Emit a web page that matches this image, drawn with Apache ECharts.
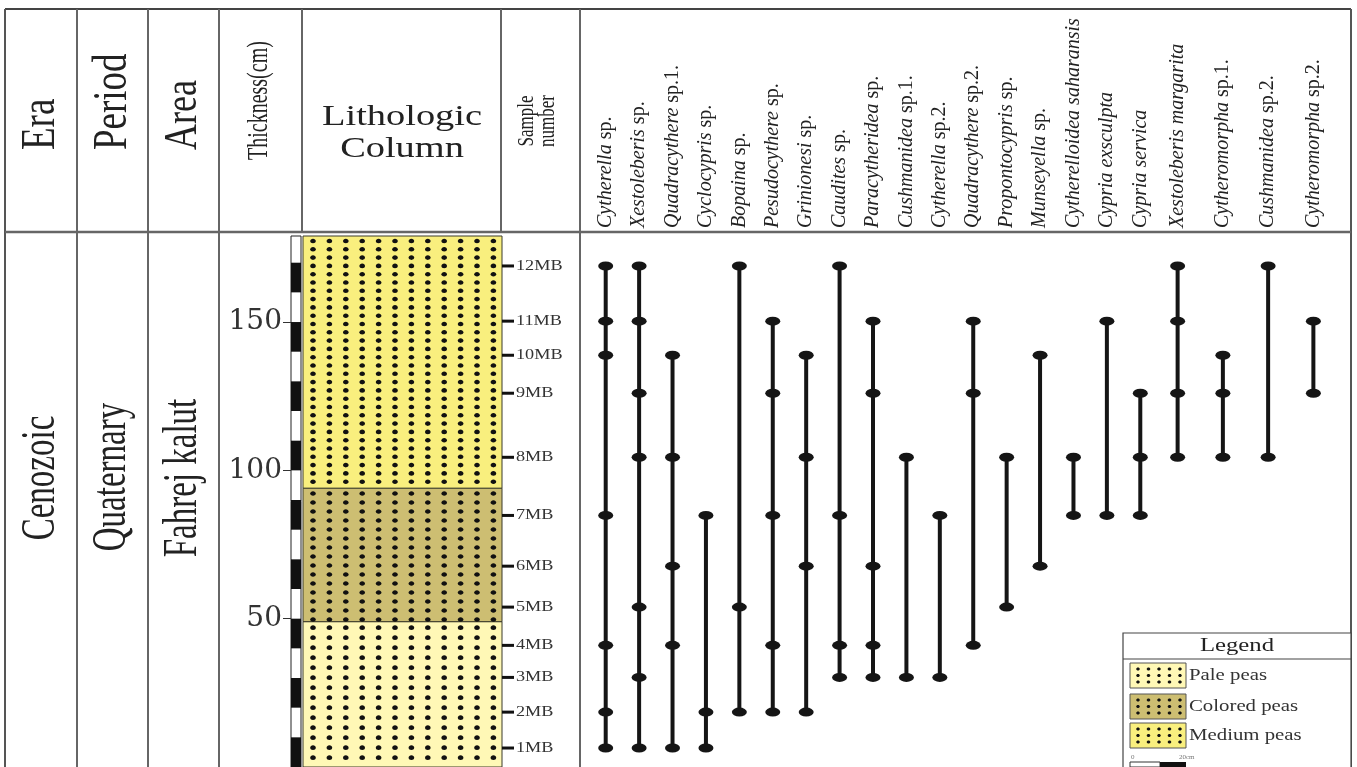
<!DOCTYPE html>
<html>
<head>
<meta charset="utf-8">
<script src="https://cdn.jsdelivr.net/npm/echarts@6.0.0/dist/echarts.min.js"></script>
<style>
html,body{margin:0;padding:0;background:#fff;}
#chart{width:1357px;height:767px;}
</style>
</head>
<body>
<div id="chart"></div>
<script>
// ---------------- data ----------------
const sampleLabels = ['1MB','2MB','3MB','4MB','5MB','6MB','7MB','8MB','9MB','10MB','11MB','12MB'];
const sampleDepths = [6.4, 18.5, 30.2, 41.0, 53.9, 67.7, 84.8, 104.4, 126.0, 138.8, 150.3, 168.9];
const thicknessTicks = [50, 100, 150];
const scaleBarStart = [0, 20, 40, 60, 80, 100, 120, 140, 160];
const scaleBarEnd = [10, 30, 50, 70, 90, 110, 130, 150, 170];
const lithoNames = ['Pale peas', 'Colored peas', 'Medium peas'];
const lithoBottom = [0, 49, 94];
const lithoTop = [49, 94, 179];
const speciesGenus = ['Cytherella','Xestoleberis','Quadracythere','Cyclocypris','Bopaina','Pesudocythere',
  'Grinionesi','Caudites','Paracytheridea','Cushmanidea','Cytherella','Quadracythere','Propontocypris',
  'Munseyella','Cytherelloidea saharansis','Cypria exsculpta','Cypria servica','Xestoleberis margarita',
  'Cytheromorpha','Cushmanidea','Cytheromorpha'];
const speciesSuffix = ['sp.','sp.','sp.1.','sp.','sp.','sp.','sp.','sp.','sp.','sp.1.','sp.2.','sp.2.',
  'sp.','sp.','','','','','sp.1.','sp.2.','sp.2.'];
// sample numbers (1 = 1MB ... 12 = 12MB) in which each species occurs
const occurrences = [
  [1,2,4,7,10,11,12],
  [1,3,5,8,9,11,12],
  [1,4,6,8,10],
  [1,2,7],
  [2,5,12],
  [2,4,7,9,11],
  [2,6,8,10],
  [3,4,7,12],
  [3,4,6,9,11],
  [3,8],
  [3,7],
  [4,9,11],
  [5,8],
  [6,10],
  [7,8],
  [7,11],
  [7,8,9],
  [8,9,11,12],
  [8,9,10],
  [8,12],
  [9,11]
];

// ---------------- styles ----------------
const Y_MAX = 179;
const GRID_TOP = 236, GRID_H = 533;
const lithoFill = ['#FFF8B6', '#CDBE72', '#F9EF7E'];
const lithoRowGap = [10, 9, 8.3];
const SERIF = '"Liberation Serif", "Times New Roman", serif';
const TXT = '#222';

const speciesNames = speciesGenus.map((g, i) => speciesSuffix[i] ? g + ' ' + speciesSuffix[i] : g);
const SPLIT = 17;
const namesA = speciesNames.slice(0, SPLIT);
const namesB = speciesNames.slice(SPLIT);

function speciesLabel(value) {
  const i = speciesNames.indexOf(value);
  return speciesSuffix[i] ? '{i|' + speciesGenus[i] + '} {n|' + speciesSuffix[i] + '}' : '{i|' + speciesGenus[i] + '}';
}

function rangeData(from, to) {
  const out = [];
  for (let i = from; i < to; i++) {
    const d = occurrences[i].map(s => sampleDepths[s - 1]);
    out.push([speciesNames[i], Math.min(...d), Math.max(...d)]);
  }
  return out;
}
function dotData(from, to) {
  const out = [];
  for (let i = from; i < to; i++) {
    occurrences[i].forEach(s => out.push([speciesNames[i], sampleDepths[s - 1]]));
  }
  return out;
}

function renderRange(params, api) {
  const x = api.value(0);
  const lo = api.coord([x, api.value(1)]);
  const hi = api.coord([x, api.value(2)]);
  return { type: 'line', shape: { x1: lo[0], y1: lo[1], x2: hi[0], y2: hi[1] },
           style: { stroke: '#151515', lineWidth: 4 } };
}

function renderLitho(params, api) {
  const b = api.value(0), t = api.value(1), k = api.value(2);
  const p0 = api.coord([0, t]);
  const p1 = api.coord([1, b]);
  const x0 = p0[0], y0 = p0[1], w = p1[0] - p0[0], h = p1[1] - p0[1];
  const children = [{ type: 'rect', shape: { x: x0, y: y0, width: w, height: h },
                      style: { fill: lithoFill[k], stroke: '#3a3a2a', lineWidth: 1 } }];
  const gap = lithoRowGap[k];
  for (let yy = y0 + gap * 0.6; yy < y0 + h - 2; yy += gap) {
    for (let c = 0; c < 12; c++) {
      children.push({ type: 'ellipse', shape: { cx: x0 + 10 + c * 16.4, cy: yy, rx: 2.8, ry: 2.3 },
                      style: { fill: '#111' } });
    }
  }
  return { type: 'group', children: children };
}

function renderScale(params, api) {
  const p0 = api.coord([0, api.value(1)]);
  const p1 = api.coord([1, api.value(0)]);
  return { type: 'rect', shape: { x: p0[0], y: p0[1], width: p1[0] - p0[0], height: p1[1] - p0[1] },
           style: { fill: '#111' } };
}

function renderSample(params, api) {
  const d = api.value(0), k = api.value(1);
  const p = api.coord([0, d]);
  return { type: 'group', children: [
    { type: 'rect', shape: { x: p[0], y: p[1] - 1.5, width: 12, height: 3 }, style: { fill: '#111' } },
    { type: 'text', x: p[0] + 14, y: p[1], scaleX: 1.3,
      style: { text: sampleLabels[k], font: '14px ' + SERIF, fill: '#333',
               align: 'left', verticalAlign: 'middle', textAlign: 'left', textVerticalAlign: 'middle' } }
  ]};
}

const hiddenY = gi => ({ gridIndex: gi, type: 'value', min: 0, max: Y_MAX, show: false });
const hiddenX = gi => ({ gridIndex: gi, type: 'value', min: 0, max: 1, show: false });
const speciesX = (gi, names) => ({
  gridIndex: gi, type: 'category', data: names, position: 'top', boundaryGap: true,
  axisLine: { show: false }, axisTick: { show: false }, splitLine: { show: false },
  axisLabel: { interval: 0, rotate: 90, margin: 8, fontSize: 20, fontFamily: SERIF, color: TXT,
    formatter: speciesLabel,
    rich: { i: { fontFamily: SERIF, fontStyle: 'italic', fontSize: 20, color: TXT },
            n: { fontFamily: SERIF, fontSize: 20, color: TXT } } }
});

// ---------------- frame / header graphics ----------------
const graphics = [];
function line(x1, y1, x2, y2, w, c) {
  graphics.push({ type: 'line', z: 50, shape: { x1, y1, x2, y2 }, style: { stroke: c || '#555', lineWidth: w || 2 } });
}
line(5, 9, 1351, 9, 2, '#444');
line(5, 9, 5, 767, 2, '#555');
line(1351, 9, 1351, 767, 2, '#555');
line(5, 232, 1351, 232, 2.5, '#666');
[77, 148, 219, 580].forEach(x => line(x, 9, x, 767, 2, '#666'));
[302, 501].forEach(x => line(x, 9, x, 232, 2, '#666'));

function vtext(text, x, y, size, align, sy, lh) {
  graphics.push({ type: 'text', z: 50, x: x, y: y, rotation: Math.PI / 2, scaleY: sy || 1.3,
    style: { text: text, font: size + 'px ' + SERIF, fill: TXT, lineHeight: lh || size,
             align: align || 'left', verticalAlign: 'middle', textAlign: align || 'left', textVerticalAlign: 'middle' } });
}
vtext('Era', 41, 150, 37);
vtext('Period', 113, 150, 37);
vtext('Area', 184, 150, 36);
vtext('Thickness(cm)', 259, 160, 20, 'left', 1.45);
vtext('Sample\nnumber', 538, 121, 17, 'center', 1.3, 16);
graphics.push({ type: 'text', z: 50, x: 402, y: 133, scaleX: 1.28,
  style: { text: 'Lithologic\nColumn', font: '30px ' + SERIF, fill: TXT, lineHeight: 32,
           align: 'center', verticalAlign: 'middle', textAlign: 'center', textVerticalAlign: 'middle' } });
vtext('Cenozoic', 41, 478, 33, 'center', 1.45);
vtext('Quaternary', 112, 477, 33, 'center', 1.45);
vtext('Fahrej kalut', 183, 478, 33, 'center', 1.45);

// legend box
const LX = 1123, LY = 633, LW = 228;
graphics.push({ type: 'rect', z: 60, shape: { x: LX, y: LY, width: LW, height: 140 },
  style: { fill: '#fff', stroke: '#444', lineWidth: 1.2 } });
graphics.push({ type: 'line', z: 61, shape: { x1: LX, y1: 659, x2: LX + LW, y2: 659 }, style: { stroke: '#444', lineWidth: 1.2 } });
graphics.push({ type: 'text', z: 61, x: 1237, y: 646, scaleX: 1.3,
  style: { text: 'Legend', font: '19px ' + SERIF, fill: TXT, align: 'center', verticalAlign: 'middle',
           textAlign: 'center', textVerticalAlign: 'middle' } });
const swY = [663, 694, 723];
lithoNames.forEach((name, k) => {
  const y = swY[k];
  graphics.push({ type: 'rect', z: 61, shape: { x: 1130, y: y, width: 56, height: 25 },
    style: { fill: lithoFill[k], stroke: '#555', lineWidth: 1 } });
  for (let r = 0; r < 3; r++) for (let c = 0; c < 5; c++) {
    graphics.push({ type: 'ellipse', z: 62, shape: { cx: 1138 + c * 10.5, cy: y + 6 + r * 6.5, rx: 1.8, ry: 1.5 },
      style: { fill: '#111' } });
  }
  graphics.push({ type: 'text', z: 61, x: 1189, y: y + 13, scaleX: 1.3,
    style: { text: name, font: '16px ' + SERIF, fill: '#333', align: 'left', verticalAlign: 'middle',
             textAlign: 'left', textVerticalAlign: 'middle' } });
});
graphics.push({ type: 'text', z: 61, x: 1131, y: 757,
  style: { text: '0', font: '7px ' + SERIF, fill: '#777', align: 'left', verticalAlign: 'middle' } });
graphics.push({ type: 'text', z: 61, x: 1179, y: 757,
  style: { text: '20cm', font: '7px ' + SERIF, fill: '#777', align: 'left', verticalAlign: 'middle' } });
graphics.push({ type: 'rect', z: 61, shape: { x: 1130, y: 762, width: 30, height: 5 }, style: { fill: '#fff', stroke: '#333', lineWidth: 1 } });
graphics.push({ type: 'rect', z: 61, shape: { x: 1160, y: 762, width: 26, height: 5 }, style: { fill: '#111' } });

// ---------------- chart ----------------
const chart = echarts.init(document.getElementById('chart'), null, { renderer: 'canvas', width: 1357, height: 767 });
const option = {
  backgroundColor: '#fff',
  animation: false,
  grid: [
    { left: 291, top: GRID_TOP, width: 10, height: GRID_H, show: true, borderColor: '#222', borderWidth: 1, backgroundColor: '#fff' },
    { left: 303, top: GRID_TOP, width: 199, height: GRID_H },
    { left: 502, top: GRID_TOP, width: 78, height: GRID_H },
    { left: 589, top: GRID_TOP, width: 568, height: GRID_H },
    { left: 1155, top: GRID_TOP, width: 181, height: GRID_H }
  ],
  xAxis: [ hiddenX(0), hiddenX(1), hiddenX(2), speciesX(3, namesA), speciesX(4, namesB) ],
  yAxis: [
    { gridIndex: 0, type: 'value', min: 0, max: Y_MAX, position: 'left',
      axisLine: { show: false }, splitLine: { show: false },
      axisTick: { show: true, length: 8, customValues: thicknessTicks, lineStyle: { color: '#333', width: 1 } },
      axisLabel: { customValues: thicknessTicks, margin: 9, hideOverlap: false,
                   fontFamily: '"DejaVu Serif", serif', fontSize: 28, color: '#333' } },
    hiddenY(1), hiddenY(2), hiddenY(3), hiddenY(4)
  ],
  graphic: graphics,
  series: [
    { type: 'custom', name: 'scale', xAxisIndex: 0, yAxisIndex: 0, renderItem: renderScale,
      data: scaleBarStart.map((s, i) => [s, scaleBarEnd[i]]), silent: true },
    { type: 'custom', name: 'Lithology', xAxisIndex: 1, yAxisIndex: 1, renderItem: renderLitho,
      data: lithoBottom.map((b, i) => [b, lithoTop[i], i]), silent: true },
    { type: 'custom', name: 'Sample number', xAxisIndex: 2, yAxisIndex: 2, renderItem: renderSample,
      data: sampleDepths.map((d, i) => [d, i]), silent: true },
    { type: 'custom', name: 'rangeA', xAxisIndex: 3, yAxisIndex: 3, renderItem: renderRange,
      data: rangeData(0, SPLIT), z: 2 },
    { type: 'scatter', name: 'dotsA', xAxisIndex: 3, yAxisIndex: 3, data: dotData(0, SPLIT),
      symbol: 'circle', symbolSize: [15, 9], itemStyle: { color: '#151515', opacity: 1 }, z: 3 },
    { type: 'custom', name: 'rangeB', xAxisIndex: 4, yAxisIndex: 4, renderItem: renderRange,
      data: rangeData(SPLIT, speciesNames.length), z: 2 },
    { type: 'scatter', name: 'dotsB', xAxisIndex: 4, yAxisIndex: 4, data: dotData(SPLIT, speciesNames.length),
      symbol: 'circle', symbolSize: [15, 9], itemStyle: { color: '#151515', opacity: 1 }, z: 3 }
  ]
};
chart.setOption(option);
</script>
</body>
</html>
